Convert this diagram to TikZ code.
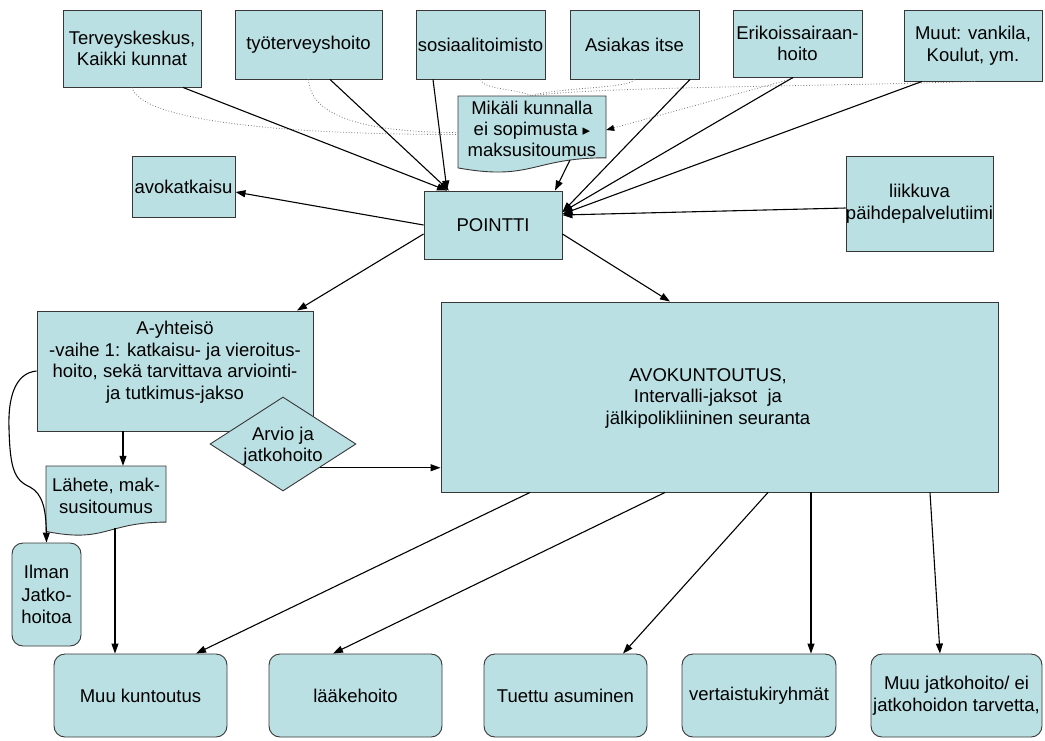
\documentclass[tikz,border=0pt]{standalone}
\usepackage{fontspec}
\setmainfont{Liberation Sans}
\newfontfamily\symfont{DejaVu Sans}
\usetikzlibrary{arrows.meta,shapes.geometric,calc}
\definecolor{boxfill}{RGB}{187,224,227}
\definecolor{boxline}{RGB}{55,55,55}

\begin{document}
\begin{tikzpicture}[x=1pt,y=-1pt,
  box/.style={draw=boxline,fill=boxfill,line width=0.9pt,inner sep=0pt,align=center,
              font=\fontsize{18.5}{21.5}\selectfont},
  rbox/.style={box,rounded corners=11pt},
  plain/.style={inner sep=0pt,align=center,font=\fontsize{18.5}{21.5}\selectfont},
  ghost/.style={draw=none,fill=none,inner sep=0pt},
  link/.style={line width=1.1pt,-{Triangle[length=10pt,width=7pt]}},
  hint/.style={draw=black!55,dotted,line width=0.8pt},
  hintarrow/.style={hint,-{Triangle[length=8pt,width=6pt,fill=black,color=black]}}
]
\useasboundingbox (0,0) rectangle (1045,740);

% --- referring parties (top row)
\node[box,minimum width=138pt,minimum height=77pt] (terv) at (132,48.5) {Terveyskeskus,\\Kaikki kunnat};
\node[box,minimum width=147pt,minimum height=69pt] (tyo)  at (308.5,44.5) {työterveyshoito};
\node[box,minimum width=129pt,minimum height=69pt] (sos)  at (480.5,44.5) {sosiaalitoimisto};
\node[box,minimum width=129pt,minimum height=69pt] (asi)  at (634.5,44.5) {Asiakas itse};
\node[box,minimum width=129pt,minimum height=67pt] (eri)  at (797.5,43.5) {Erikoissairaan-\\hoito};
\node[box,minimum width=138pt,minimum height=71pt] (muut) at (973,45.5) {Muut: vankila,\\Koulut, ym.};

% --- payment commitment document
\draw[draw=boxline,fill=boxfill,line width=0.9pt]
  (458,96) -- (606,96) -- (606,157.8) .. controls (532,157.8) and (532,181.3) .. (458,167.9) -- cycle;
\node[ghost,minimum width=148pt,minimum height=77pt] (mik) at (532,134.5) {};
\node[plain,font=\fontsize{18.5}{21}\selectfont] (mikT) at (532,129)
  {Mikäli kunnalla\\ei sopimusta {\symfont\fontsize{15}{15}\selectfont ▸}\\maksusitoumus};
\coordinate (mikOut) at (570,160);

% --- central nodes
\node[box,minimum width=103pt,minimum height=61pt] (avok) at (183.5,186.5) {avokatkaisu};
\node[box,minimum width=138pt,minimum height=68pt] (pointti) at (493,225) {POINTTI};
\node[box,minimum width=147pt,minimum height=95pt] (liik) at (919.5,203.5) {liikkuva\\päihdepalvelutiimi};

% --- A-yhteisö and the assessment decision
\node[box,minimum width=276pt,minimum height=120pt] (ayht) at (175,371) {};
\node[plain] (ayhtT) at (175,362)
  {A-yhteisö\\-vaihe 1: katkaisu- ja vieroitus-\\hoito, sekä tarvittava arviointi-\\ja tutkimus-jakso};
\node[diamond,draw=boxline,fill=boxfill,line width=0.9pt,inner sep=0pt,
      minimum width=146pt,minimum height=94pt,aspect=1.55] (arvio) at (283,444) {};
\node[plain] (arvioT) at (283,446) {Arvio ja\\jatkohoito};

% --- referral document
\draw[draw=boxline,fill=boxfill,line width=0.9pt]
  (46,466) -- (166,466) -- (166,522.1) .. controls (106,522.1) and (106,543.5) .. (46,531.4) -- cycle;
\node[ghost,minimum width=120pt,minimum height=70pt] (lahete) at (106,501) {};
\node[plain] (laheteT) at (106,496) {Lähete, mak-\\susitoumus};
\coordinate (lahOut) at (115,528);

\node[rbox,minimum width=69pt,minimum height=103pt,font=\fontsize{18.5}{22.5}\selectfont] (ilman) at (46.5,594.5) {Ilman\\Jatko-\\hoitoa};

% --- outpatient rehabilitation
\node[box,minimum width=557pt,minimum height=190pt] (avo) at (719.5,397) {};
\node[plain] (avoT) at (708,398) {AVOKUNTOUTUS,\\Intervalli-jaksot\ \ ja\\jälkipolikliininen seuranta};

% --- follow-up options (bottom row)
\node[rbox,minimum width=173pt,minimum height=83pt] (muuk)   at (140.5,695.5) {Muu kuntoutus};
\node[rbox,minimum width=173pt,minimum height=83pt] (laake)  at (355.5,695.5) {lääkehoito};
\node[rbox,minimum width=163pt,minimum height=83pt] (tuettu) at (565.5,695.5) {Tuettu asuminen};
\node[rbox,minimum width=154pt,minimum height=83pt] (vert)   at (759,695.5) {vertaistukiryhmät};
\node[rbox,minimum width=171pt,minimum height=83pt] (muuj)   at (956.5,695.5) {Muu jatkohoito/ ei\\jatkohoidon tarvetta,};

% --- dotted links to the payment commitment
\draw[hint] (terv.south) .. controls +(8,30) and +(-200,0) .. (mik.west);
\draw[hint] (tyo.south) .. controls +(2,38) and +(-90,0) .. ([yshift=2pt]mik.west);
\draw[hint] (sos.south) .. controls +(2,10) and +(-15,-7) .. (mik.north);
\draw[hint] (asi.south) .. controls +(-3,9) and +(20,-8) .. (mik.north);
\draw[hint] ([xshift=2pt]muut.south) .. controls +(-150,5) and +(60,-9) .. (mik.north);
\draw[hintarrow] ([xshift=-4.5pt,yshift=-1pt]eri.south) -- ([yshift=4.5pt]mik.east);

% --- referrals into POINTTI
\draw[link] ([xshift=51pt]terv.south) -- ([xshift=-46pt]pointti.north);
\draw[link] ([xshift=21.5pt]tyo.south) -- ([xshift=-44pt]pointti.north);
\draw[link] ([xshift=-47.5pt]sos.south) -- ([xshift=-46pt]pointti.north);
\draw[link] (mikOut) -- ([xshift=62pt]pointti.north);
\draw[link] ([xshift=55.5pt]asi.south) -- ([yshift=13pt]pointti.east);
\draw[link] ([xshift=-4.5pt]eri.south) -- ([yshift=13pt]pointti.east);
\draw[link] ([xshift=-51pt]muut.south) -- ([yshift=11pt]pointti.east);
\draw[link] ([yshift=-4.5pt]liik.west) -- ([yshift=10pt]pointti.east);

% --- out of POINTTI
\draw[link] (pointti.west) -- ([yshift=-5.5pt]avok.east);
\draw[link] ([yshift=-9pt]pointti.west) -- ([xshift=122pt]ayht.north);
\draw[link] ([yshift=-9pt]pointti.east) -- ([xshift=-49.5pt]avo.north);

% --- A-yhteisö paths
\draw[link] ([xshift=-52pt]ayht.south) -- ([xshift=17pt]lahete.north);
\draw[link] (lahOut) -- ([xshift=-25.5pt]muuk.north);
\draw[link] (ayht.west) .. controls (14,373) and (8,400) .. (9,428)
  .. controls (10,468) and (14,480) .. (30,487)
  .. controls (43,494) and (46,510) .. (ilman.north);
\draw[link] (arvio.south east) -- (arvio.south east -| avo.west);

% --- out of AVOKUNTOUTUS
\draw[link] ([xshift=-189.5pt]avo.south) -- ([xshift=55.5pt]muuk.north);
\draw[link] ([xshift=-54.5pt]avo.south) -- ([xshift=-22.5pt]laake.north);
\draw[link] ([xshift=48.5pt]avo.south) -- ([xshift=57.5pt]tuettu.north);
\draw[link] ([xshift=91.5pt]avo.south) -- ([xshift=52pt]vert.north);
\draw[link] ([xshift=210.5pt]avo.south) -- ([xshift=-16.5pt]muuj.north);
\end{tikzpicture}
\end{document}
